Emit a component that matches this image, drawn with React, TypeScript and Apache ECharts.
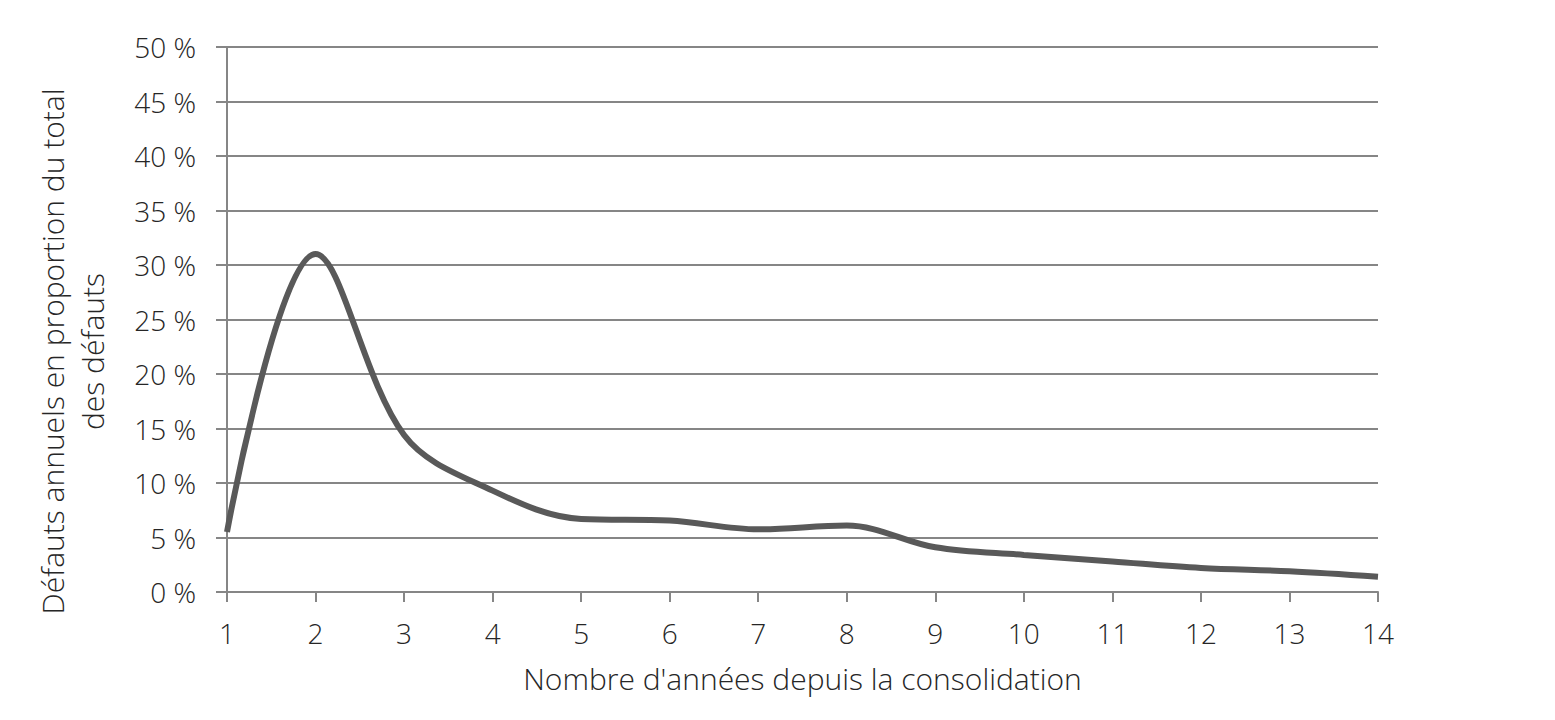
import React, { useEffect, useRef } from "react";
import * as echarts from "echarts";

const years = [1, 2, 3, 4, 5, 6, 7, 8, 9, 10, 11, 12, 13, 14];
const defaultShare = [5.5, 31, 14.4, 9.3, 6.7, 6.55, 5.75, 6.1, 4.1, 3.4, 2.8, 2.2, 1.9, 1.4];
const yTitle = "Défauts annuels en proportion du total\ndes défauts";
const xTitle = "Nombre d'années depuis la consolidation";

const FONT = "'Open Sans', 'DejaVu Sans', sans-serif";
const TEXT = "#262626";
const GRID = "#868686";
const FS = 28;
const FS_TITLE = 30;

export default function App() {
  const ref = useRef<HTMLDivElement>(null);
  useEffect(() => {
    if (!ref.current) return;
    const chart = echarts.init(ref.current, null, { renderer: "svg" });
    chart.setOption({
      animation: false,
      backgroundColor: "#ffffff",
      textStyle: { fontFamily: FONT },
      grid: {
        left: 227,
        right: 177,
        top: 47,
        bottom: 128,
        containLabel: false,
        outerBoundsMode: "none",
      },
      xAxis: {
        type: "value",
        min: 1,
        max: 14,
        interval: 1,
        name: xTitle,
        nameLocation: "middle",
        nameGap: 71,
        nameTextStyle: { fontSize: FS_TITLE, color: TEXT, fontFamily: FONT, fontWeight: 300 },
        axisLine: { show: true, lineStyle: { color: GRID, width: 2 } },
        axisTick: { show: true, length: 10, lineStyle: { color: GRID, width: 2 } },
        axisLabel: { fontSize: FS, color: TEXT, margin: 27, fontFamily: FONT, fontWeight: 300 },
        splitLine: { show: false },
      },
      yAxis: {
        type: "value",
        min: 0,
        max: 50,
        interval: 5,
        name: yTitle,
        nameLocation: "middle",
        nameGap: 115,
        nameRotate: 90,
        nameTextStyle: {
          fontSize: FS_TITLE,
          color: TEXT,
          fontFamily: FONT,
          fontWeight: 300,
          lineHeight: 40,
          align: "center",
          padding: [0, 64, 0, 0],
        },
        axisLine: { show: true, lineStyle: { color: GRID, width: 2 } },
        axisTick: { show: true, length: 11, lineStyle: { color: GRID, width: 2 } },
        axisLabel: {
          fontSize: FS,
          color: TEXT,
          margin: 31,
          fontFamily: FONT,
          fontWeight: 300,
          formatter: (v: number) => `${v} %`,
        },
        splitLine: { show: true, lineStyle: { color: GRID, width: 2 } },
      },
      series: [
        {
          type: "line",
          data: years.map((y, i) => [y, defaultShare[i]]),
          smooth: 0.35,
          showSymbol: false,
          lineStyle: { color: "#595959", width: 6 },
          itemStyle: { color: "#595959" },
        },
      ],
    });
    return () => chart.dispose();
  }, []);
  return (
    <div
      ref={ref}
      style={{ position: "fixed", left: 0, top: 0, width: 1555, height: 720, background: "#fff" }}
    />
  );
}
